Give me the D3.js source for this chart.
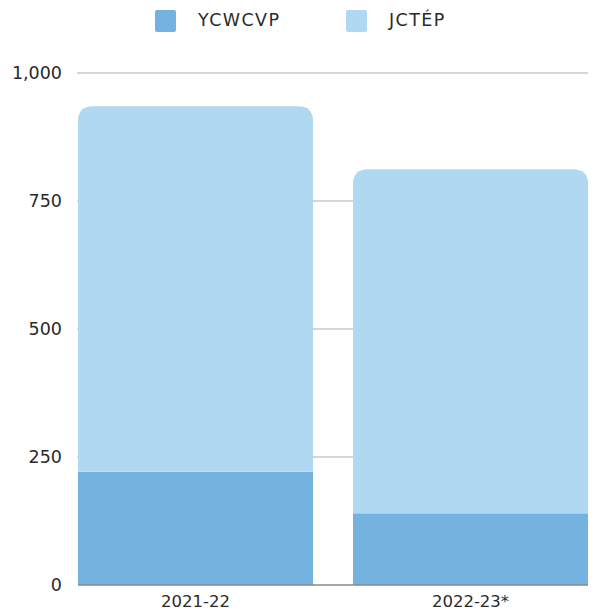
<!DOCTYPE html>
<html><head><meta charset="utf-8">
<script src="https://cdn.jsdelivr.net/npm/d3@7"></script>
<style>body{margin:0;background:#fff}svg{display:block}text{font-family:"DejaVu Sans",sans-serif;fill:#2a2a2a}</style>
</head><body><svg id="c" width="595" height="610"></svg>
<script>
const categories = ["2021-22", "2022-23*"];
const seriesNames = ["YCWCVP", "JCTÉP"];
const ycwcvp = [221, 140];
const jctep = [714, 672]; // totals ≈ 935, 812
const yTicks = [0, 250, 500, 750, 1000];
const colors = ["#74b2e0", "#b0d8f1"];

const svg = d3.select("#c");
const y = d3.scaleLinear().domain([0, 1000]).range([585, 73]);
const x = d3.scaleBand().domain(categories).range([78, 588]).paddingInner(40/275).paddingOuter(0);

// gridlines
svg.append("g").selectAll("line").data(yTicks.filter(d => d > 0)).join("line")
  .attr("x1", 77).attr("x2", 588).attr("y1", d => y(d)).attr("y2", d => y(d))
  .attr("stroke", "#c8c8c8").attr("stroke-width", 1.5);

// y labels
const fmt = d3.format(",");
svg.append("g").selectAll("text").data(yTicks).join("text")
  .attr("x", 62).attr("y", d => y(d) + 6).attr("text-anchor", "end")
  .attr("font-size", 17.5).text(d => fmt(d));

const data = categories.map((c, i) => ({c, a: ycwcvp[i], b: jctep[i]}));
const r = 15;
// bottom segment
svg.append("g").selectAll("rect").data(data).join("rect")
  .attr("x", d => x(d.c)).attr("width", x.bandwidth())
  .attr("y", d => y(d.a)).attr("height", d => y(0) - y(d.a)).attr("fill", colors[0]);
// top segment with rounded top corners
svg.append("g").selectAll("path").data(data).join("path")
  .attr("fill", colors[1])
  .attr("d", d => {
    const x0 = x(d.c), x1 = x0 + x.bandwidth(), yt = y(d.a + d.b), yb = y(d.a);
    return `M${x0},${yb}V${yt + r}Q${x0},${yt} ${x0 + r},${yt}H${x1 - r}Q${x1},${yt} ${x1},${yt + r}V${yb}Z`;
  });

// baseline
svg.append("line").attr("x1", 78).attr("x2", 588).attr("y1", y(0)).attr("y2", y(0))
  .attr("stroke", "#8a8a8a").attr("stroke-width", 1.5);

// x labels
svg.append("g").selectAll("text").data(categories).join("text")
  .attr("x", d => x(d) + x.bandwidth() / 2).attr("y", 607).attr("text-anchor", "middle")
  .attr("font-size", 16.5).text(d => d);

// legend
const legX = [155, 346];
const lg = svg.append("g").selectAll("g").data(seriesNames).join("g")
  .attr("transform", (d, i) => `translate(${legX[i]},10)`);
lg.append("rect").attr("width", 21).attr("height", 22).attr("rx", 2).attr("fill", (d, i) => colors[i]);
lg.append("text").attr("x", 43).attr("y", 16).attr("font-size", 17.5).attr("letter-spacing", 1.4).text(d => d);
</script></body></html>
